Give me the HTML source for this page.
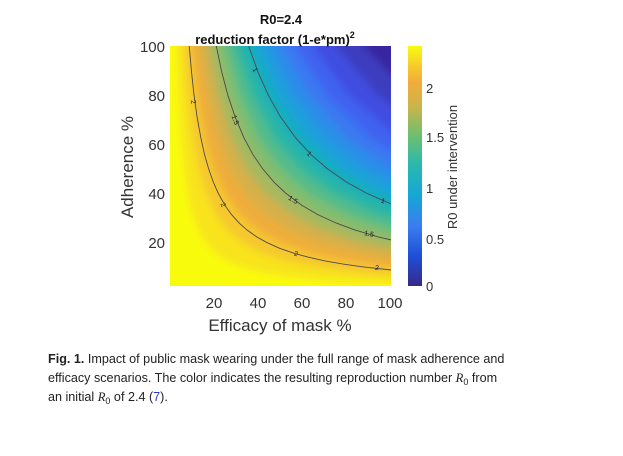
<!DOCTYPE html>
<html><head><meta charset="utf-8"><style>
body{margin:0;background:#fff;width:623px;height:451px;overflow:hidden;font-family:"Liberation Sans",Arial,sans-serif}
</style></head><body>
<svg width="623" height="451" viewBox="0 0 623 451" xmlns="http://www.w3.org/2000/svg" font-family="Liberation Sans, Arial, sans-serif">
<defs>
<path id="h" d="M0.85,1.3 L0.85,1.176 L1,1 L1.25,.8 L1.6,.625 L2,.5 L2.5,.4 L3.2,.3125 L4,.25 L5,.2 L6.5,.1538 L8,.125 L10,.1 L13,.0769 L16,.0625 L20,.05 L25,.04 L32,.03125 L40,.025 L50,.02 L70,.0143 L100,.01 L150,.0067 L150,1.3 Z"/>
<clipPath id="box"><rect x="170" y="46" width="221" height="240"/></clipPath>
<filter id="bl" x="-10%" y="-10%" width="120%" height="120%"><feGaussianBlur stdDeviation="4"/></filter>
<linearGradient id="cb" x1="0" y1="1" x2="0" y2="0">
<stop offset="0" stop-color="#352a87"/><stop offset="0.125" stop-color="#1f4fd8"/>
<stop offset="0.25" stop-color="#3a7ef0"/><stop offset="0.375" stop-color="#16a6d6"/>
<stop offset="0.5" stop-color="#28b8b0"/><stop offset="0.625" stop-color="#6cbf70"/>
<stop offset="0.75" stop-color="#cdb44a"/><stop offset="0.85" stop-color="#f1ac3a"/>
<stop offset="0.92" stop-color="#f6cd2c"/><stop offset="1" stop-color="#f9fb0e"/>
</linearGradient>
</defs>
<g clip-path="url(#box)">
<g filter="url(#bl)">
<rect x="150" y="20" width="270" height="290" fill="#f9fb0e"/>
<g transform="translate(170,291.4) scale(221,-245.9)">
<use href="#h" transform="scale(0.032,1)" fill="#f8e31e"/>
<use href="#h" transform="scale(0.065,1)" fill="#f6c72e"/>
<use href="#h" transform="scale(0.099,1)" fill="#efad3a"/>
<use href="#h" transform="scale(0.134,1)" fill="#d6b048"/>
<use href="#h" transform="scale(0.171,1)" fill="#a8b85e"/>
<use href="#h" transform="scale(0.209,1)" fill="#80bd70"/>
<use href="#h" transform="scale(0.25,1)" fill="#52bc8a"/>
<use href="#h" transform="scale(0.293,1)" fill="#2ab6a6"/>
<use href="#h" transform="scale(0.339,1)" fill="#14aec0"/>
<use href="#h" transform="scale(0.388,1)" fill="#1aa0da"/>
<use href="#h" transform="scale(0.441,1)" fill="#2a8ee8"/>
<use href="#h" transform="scale(0.5,1)" fill="#3a78f2"/>
<use href="#h" transform="scale(0.567,1)" fill="#4062f0"/>
<use href="#h" transform="scale(0.646,1)" fill="#404ee0"/>
<use href="#h" transform="scale(0.75,1)" fill="#3c3cc0"/>
<use href="#h" transform="scale(0.87,1)" fill="#3828a0"/>
</g>
</g>
<g fill="none" stroke="#4a4a4a" stroke-width="0.9">
<polyline points="189.2,45.5 191.5,71.8 194.0,94.7 196.9,115.8 200.8,137.7 204.6,154.8 208.5,168.4 213.3,182.1 218.1,193.0 224.8,205.1 231.5,214.6 239.2,223.1 246.9,229.9 256.5,236.8 266.2,242.2 279.6,248.3 295.0,253.6 308.5,257.2 323.8,260.7 343.1,264.1 362.3,266.8 391.1,270.0"/>
<polyline points="216.2,45.5 221.7,71.8 227.7,94.7 234.7,115.8 243.9,137.7 253.1,154.8 262.4,168.4 273.9,182.1 285.5,193.0 301.6,205.1 317.8,214.6 336.3,223.1 354.8,229.9 377.9,236.8 400.9,242.2"/>
<polyline points="248.5,45.5 257.9,71.8 268.1,94.7 279.8,115.8 295.5,137.7 311.2,154.8 326.9,168.4 346.5,182.1 366.2,193.0 393.6,205.1"/>
</g>
</g>
<g font-size="7" fill="#222" text-anchor="middle">
<text x="193" y="104" transform="rotate(80 193 102)">2</text>
<text x="223" y="207" transform="rotate(60 223 205)">2</text>
<text x="296" y="256" transform="rotate(15 296 254)">2</text>
<text x="377" y="270" transform="rotate(5 377 268)">2</text>
<text x="235" y="122" transform="rotate(70 235 120)">1.5</text>
<text x="293" y="202" transform="rotate(30 293 200)">1.5</text>
<text x="369" y="236" transform="rotate(12 369 234)">1.5</text>
<text x="255" y="72" transform="rotate(60 255 70)">1</text>
<text x="309" y="156" transform="rotate(40 309 154)">1</text>
<text x="383" y="203" transform="rotate(20 383 201)">1</text>
</g>
<g font-size="13" font-weight="bold" fill="#111" text-anchor="middle">
<text x="281" y="24">R0=2.4</text>
<text x="275" y="44">reduction factor (1-e*pm)<tspan font-size="9" dy="-6">2</tspan></text>
</g>
<g font-size="15" fill="#333" text-anchor="end">
<text x="165" y="52">100</text><text x="165" y="101">80</text>
<text x="165" y="150">60</text><text x="165" y="199">40</text>
<text x="165" y="248">20</text>
</g>
<g font-size="15" fill="#333" text-anchor="middle">
<text x="214" y="308">20</text><text x="258" y="308">40</text>
<text x="302" y="308">60</text><text x="346" y="308">80</text>
<text x="390" y="308">100</text>
</g>
<text x="280" y="331" font-size="17" fill="#333" text-anchor="middle">Efficacy of mask %</text>
<text x="0" y="0" font-size="17" fill="#333" text-anchor="middle" transform="translate(133,167) rotate(-90)">Adherence %</text>
<rect x="408" y="46" width="14" height="240" fill="url(#cb)"/>
<g font-size="13" fill="#333">
<text x="426" y="93">2</text><text x="426" y="142">1.5</text>
<text x="426" y="193">1</text><text x="426" y="244">0.5</text>
<text x="426" y="291">0</text>
</g>
<text x="0" y="0" font-size="13" fill="#333" text-anchor="middle" transform="translate(457,167) rotate(-90)">R0 under intervention</text>
<g font-size="12.6" fill="#222">
<text x="48" y="363"><tspan font-weight="bold">Fig. 1.</tspan> Impact of public mask wearing under the full range of mask adherence and</text>
<text x="48" y="382">efficacy scenarios. The color indicates the resulting reproduction number <tspan font-family="Liberation Serif, serif" font-style="italic">R</tspan><tspan font-size="9" dy="3">0</tspan><tspan dy="-3"> from</tspan></text>
<text x="48" y="401">an initial <tspan font-family="Liberation Serif, serif" font-style="italic">R</tspan><tspan font-size="9" dy="3">0</tspan><tspan dy="-3"> of 2.4 (</tspan><tspan fill="#2a3fd8">7</tspan>).</text>
</g>
</svg>
</body></html>
